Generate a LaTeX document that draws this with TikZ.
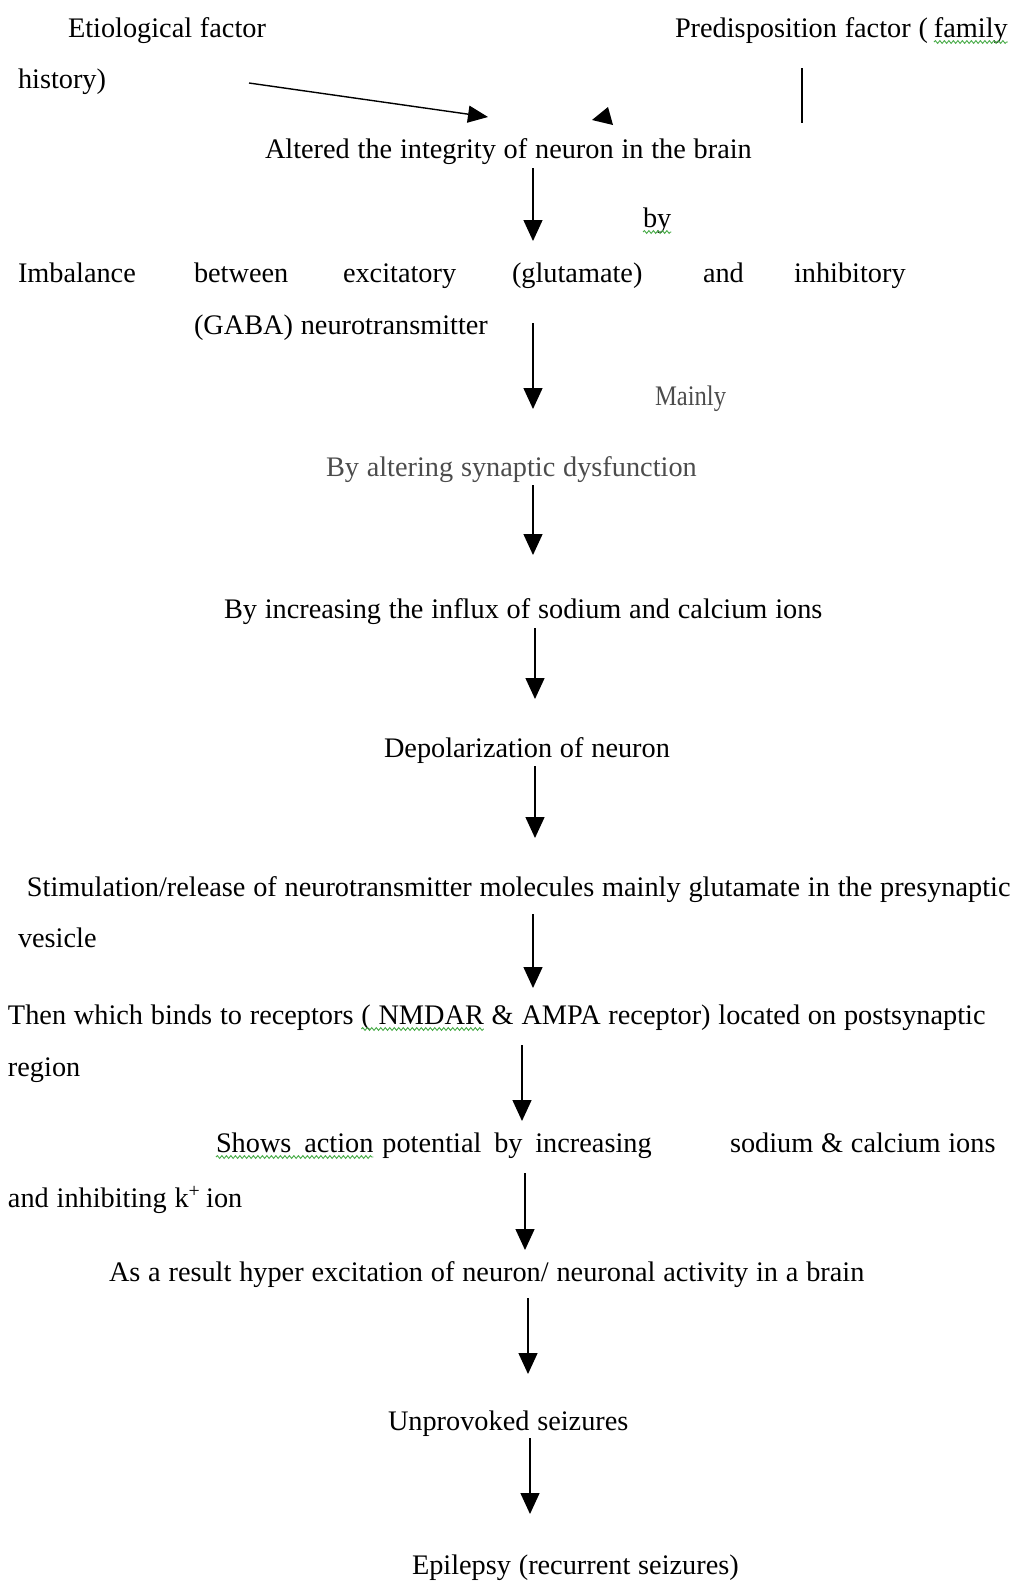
\documentclass[tikz,border=0pt]{standalone}
\usepackage{fontspec}
\setmainfont{Liberation Serif}
\usetikzlibrary{arrows.meta,decorations.pathmorphing}
\definecolor{squig}{RGB}{70,170,70}
\newcommand\flowfont{\fontsize{28.3}{34}\selectfont\spaceskip 7.8pt\relax}
\begin{document}
\begin{tikzpicture}[x=1pt,y=-1pt,
  txt/.style={anchor=base west,inner sep=0pt,outer sep=0pt,font=\flowfont},
  soft/.style={txt,text=black!70},
  flow/.style={line width=1.4pt,-{Triangle[length=21pt,width=19pt]}},
  wavy/.style={squig,line width=0.9pt,decorate,decoration={snake,segment length=4.5pt,amplitude=1.4pt}}]
\useasboundingbox (0,0) rectangle (1016,1583);
% texts
\node[txt] (etio) at (68,37) {Etiological factor};
\node[txt] (pre) at (675,37) {Predisposition factor (};
\node[txt] (fam) at ([xshift=6pt]pre.base east) {family};
\node[txt] (hist) at (18,88) {history)};
\node[txt] (alt) at (265,158) {Altered the integrity of neuron in the brain};
\node[txt] (by) at (643,227) {by};
\node[txt] (im1) at (18,282) {Imbalance};
\node[txt] (im2) at (194,282) {between};
\node[txt] (im3) at (343,282) {excitatory};
\node[txt] (im4) at (512,282) {(glutamate)};
\node[txt] (im5) at (703,282) {and};
\node[txt] (im6) at (794,282) {inhibitory};
\node[txt] (gaba) at (194,334) {(GABA) neurotransmitter};
\node[soft] (mainly) at (655,405) {\scalebox{0.87}[1]{Mainly}};
\node[soft] (syn) at (326,476) {By altering synaptic dysfunction};
\node[txt] (influx) at (224,618) {By increasing the influx of sodium and calcium ions};
\node[txt] (depol) at (384,757) {Depolarization of neuron};
\node[txt] (stim) at (27,896) {Stimulation/release of neurotransmitter molecules mainly glutamate in the presynaptic};
\node[txt] (ves) at (18,947) {vesicle};
\node[txt] (then1) at (8,1024) {Then which binds to receptors};
\node[txt] (then2) at ([xshift=7.8pt]then1.base east) {( NMDAR};
\node[txt] (then3) at ([xshift=7.8pt]then2.base east) {\& AMPA receptor) located on postsynaptic};
\node[txt] (reg) at (8,1076) {region};
\node[txt] (sh1) at (216,1152) {Shows\hspace{5pt} action};
\node[txt] (sh2) at ([xshift=9pt]sh1.base east) {potential\hspace{5pt} by\hspace{5pt} increasing};
\node[txt] (sh3) at (730,1152) {sodium \& calcium ions};
\node[txt] (inh) at (8,1207) {and inhibiting k\textsuperscript{+}\hspace{-2pt} ion};
\node[txt] (res) at (109,1281) {As a result hyper excitation of neuron/ neuronal activity in a brain};
\node[txt] (unp) at (388,1430) {Unprovoked seizures};
\node[txt] (epi) at (412,1574) {Epilepsy (recurrent seizures)};
% spell-check squiggles
\draw[wavy] ([yshift=-5pt]fam.base west) -- ([yshift=-5pt]fam.base east);
\draw[wavy] ([yshift=-5pt]by.base west) -- ([yshift=-5pt]by.base east);
\draw[wavy] ([yshift=-5pt]then2.base west) -- ([yshift=-5pt]then2.base east);
\draw[wavy] ([yshift=-5pt]sh1.base west) -- ([yshift=-5pt]sh1.base east);
% connector end points
\coordinate (e1s) at (249,83);  \coordinate (e1t) at (488,117);
\coordinate (p1s) at (802,68);  \coordinate (p1t) at (802,123);
\coordinate (a2s) at (533,168); \coordinate (a2t) at (533,241);
\coordinate (a3s) at (533,323); \coordinate (a3t) at (533,409);
\coordinate (a4s) at (533,485); \coordinate (a4t) at (533,555);
\coordinate (a5s) at (535,628); \coordinate (a5t) at (535,699);
\coordinate (a6s) at (535,766); \coordinate (a6t) at (535,838);
\coordinate (a7s) at (533,914); \coordinate (a7t) at (533,988);
\coordinate (a8s) at (522,1045); \coordinate (a8t) at (522,1121);
\coordinate (a9s) at (525,1173); \coordinate (a9t) at (525,1250);
\coordinate (a10s) at (528,1298); \coordinate (a10t) at (528,1374);
\coordinate (a11s) at (530,1438); \coordinate (a11t) at (530,1514);
% connectors
\draw[line width=1.4pt,-{Triangle[length=20pt,width=17pt]}] (e1s) -- (e1t);
\draw[line width=1.4pt] (p1s) -- (p1t);
\fill (592,120) -- (608,107) -- (613,125) -- cycle;
\draw[flow] (a2s) -- (a2t);
\draw[flow] (a3s) -- (a3t);
\draw[flow] (a4s) -- (a4t);
\draw[flow] (a5s) -- (a5t);
\draw[flow] (a6s) -- (a6t);
\draw[flow] (a7s) -- (a7t);
\draw[flow] (a8s) -- (a8t);
\draw[flow] (a9s) -- (a9t);
\draw[flow] (a10s) -- (a10t);
\draw[flow] (a11s) -- (a11t);
\end{tikzpicture}
\end{document}
